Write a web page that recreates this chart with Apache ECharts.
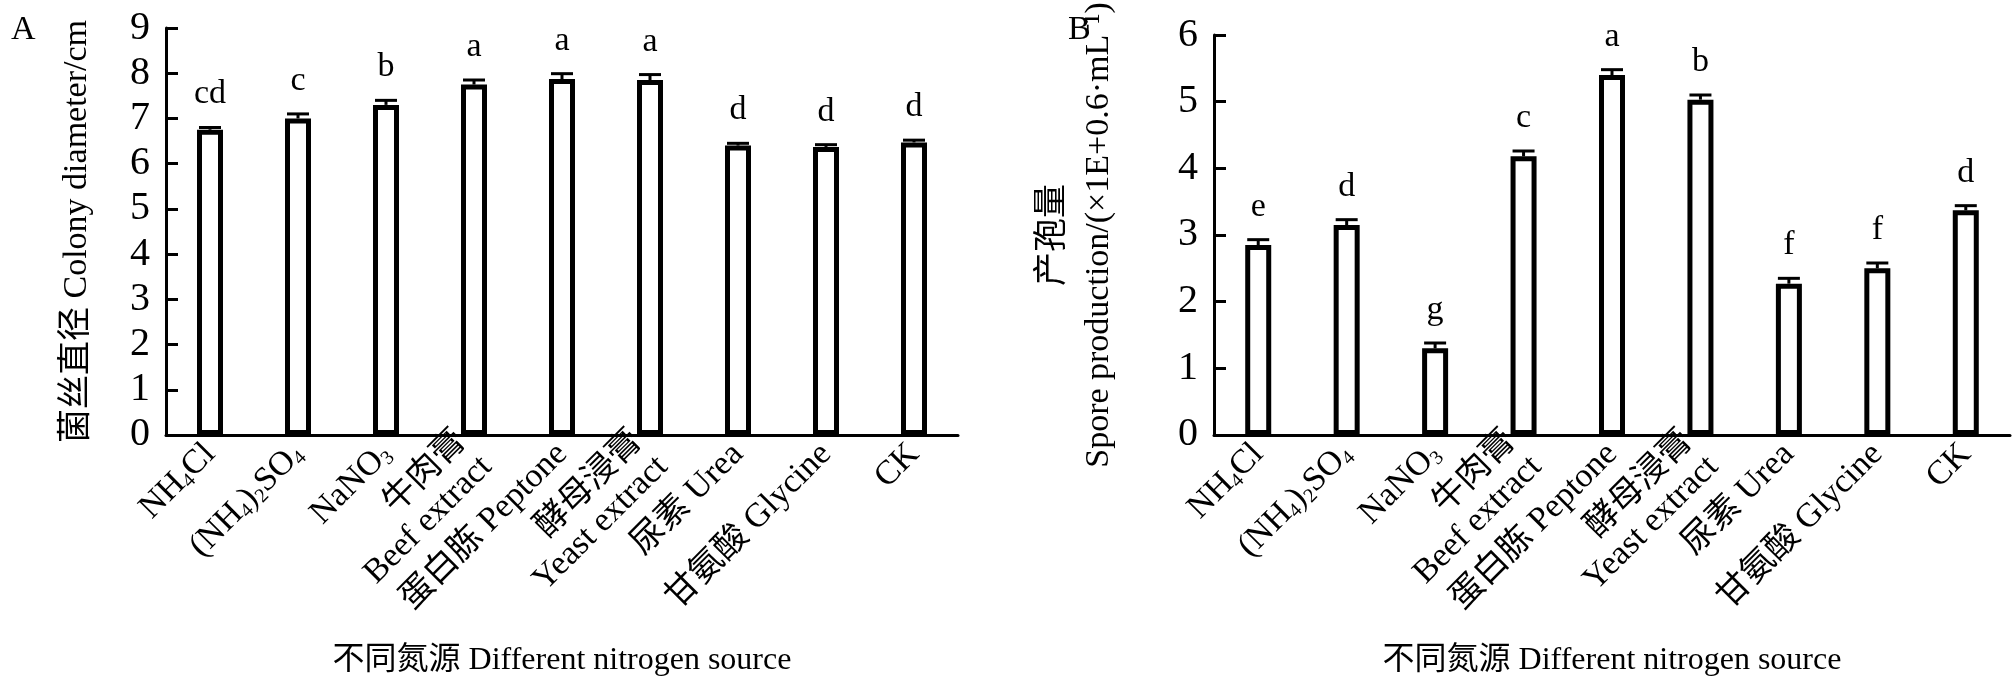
<!DOCTYPE html>
<html lang="en">
<head>
  <meta charset="UTF-8">
  <title>Nitrogen source</title>
  <script src="https://cdn.jsdelivr.net/npm/echarts@6/dist/echarts.min.js"></script>
</head>
<body style="margin:0">
  <div id="main" style="width:2016px;height:682px;background:#fff;"></div>
  <script type="text/javascript">
    var categories = ['NH{s|4}Cl', '(NH{s|4}){s|2}SO{s|4}', 'NaNO{s|3}', '牛肉膏\nBeef extract', '蛋白胨 Peptone',
      '酵母浸膏\nYeast extract', '尿素 Urea', '甘氨酸 Glycine', 'CK'];
    // A: colony diameter
    var diamValues = [6.75, 7.0, 7.3, 7.75, 7.87, 7.85, 6.4, 6.37, 6.47];
    var diamErrors = [0.05, 0.1, 0.1, 0.1, 0.12, 0.12, 0.05, 0.05, 0.05];
    var diamLetters = ['cd', 'c', 'b', 'a', 'a', 'a', 'd', 'd', 'd'];
    // B: spore production
    var sporeValues = [2.85, 3.15, 1.3, 4.18, 5.4, 5.03, 2.27, 2.5, 3.37];
    var sporeErrors = [0.08, 0.08, 0.08, 0.08, 0.08, 0.07, 0.08, 0.08, 0.07];
    var sporeLetters = ['e', 'd', 'g', 'c', 'a', 'b', 'f', 'f', 'd'];

    var FONT = '"Liberation Serif", "Noto Sans CJK SC", serif';

    function errData(vals, errs, letters) {
      return vals.map(function (v, i) { return [i, v, v + errs[i], letters[i]]; });
    }

    function renderErr(params, api) {
      var base = api.coord([api.value(0), api.value(1)]);
      var top = api.coord([api.value(0), api.value(2)]);
      return {
        type: 'group',
        children: [
          { type: 'line', shape: { x1: base[0], y1: base[1], x2: top[0], y2: top[1] }, style: { stroke: '#000', lineWidth: 3 } },
          { type: 'line', shape: { x1: top[0] - 11, y1: top[1], x2: top[0] + 11, y2: top[1] }, style: { stroke: '#000', lineWidth: 3 } },
          { type: 'text', x: top[0], y: top[1] - 16, style: { text: api.value(3), fill: '#000', font: '34px ' + FONT, align: 'center', verticalAlign: 'bottom' } }
        ]
      };
    }

    var axisLine = { lineStyle: { color: '#000', width: 3 } };
    var catAxis = function (idx) {
      return {
        type: 'category', gridIndex: idx, data: categories,
        name: '不同氮源 Different nitrogen source', nameLocation: 'middle', nameGap: 210,
        nameTextStyle: { fontFamily: FONT, fontSize: 32, color: '#000' },
        axisLine: axisLine, axisTick: { inside: true, length: 12, lineStyle: { width: 3, color: '#000' } },
        axisLabel: {
          rotate: 45, interval: 0, margin: 14, color: '#000', fontFamily: FONT, fontSize: 34, lineHeight: 36,
          rich: { s: { fontFamily: FONT, fontSize: 20, verticalAlign: 'bottom', padding: [16, 0, 0, 0] } }
        }
      };
    };
    var valAxis = function (idx, max, name, gap) {
      return {
        type: 'value', gridIndex: idx, min: 0, max: max, interval: 1,
        name: name, nameLocation: 'middle', nameRotate: 90, nameGap: gap,
        nameTextStyle: { fontFamily: FONT, fontSize: 34, color: '#000', lineHeight: 46 },
        axisLine: Object.assign({ show: true }, axisLine),
        axisTick: { show: true, inside: true, length: 12, lineStyle: { width: 3, color: '#000' } },
        splitLine: { show: false },
        axisLabel: { color: '#000', fontFamily: FONT, fontSize: 40, margin: 16 }
      };
    };

    var barStyle = { color: '#fff', borderColor: '#000', borderWidth: 5 };

    var myChart = echarts.init(document.getElementById('main'));
    var option = {
      animation: false,
      title: [
        { text: 'A', left: 6, top: 8, textStyle: { fontFamily: FONT, fontSize: 34, fontWeight: 'normal', color: '#000' } },
        { text: 'B', left: 1063, top: 8, textStyle: { fontFamily: FONT, fontSize: 34, fontWeight: 'normal', color: '#000' } }
      ],
      grid: [
        { left: 166, top: 28, width: 792, bottom: 224 },
        { left: 1214, top: 35, width: 796, bottom: 226 }
      ],
      xAxis: [catAxis(0), catAxis(1)],
      yAxis: [
        valAxis(0, 9, '菌丝直径 Colony diameter/cm', 66),
        valAxis(1, 6, '产孢量\nSpore production/(×1E+0.6·mL⁻¹)', 92)
      ],
      series: [
        { type: 'bar', xAxisIndex: 0, yAxisIndex: 0, data: diamValues, barWidth: 26, itemStyle: barStyle },
        { type: 'custom', xAxisIndex: 0, yAxisIndex: 0, data: errData(diamValues, diamErrors, diamLetters), renderItem: renderErr, z: 5 },
        { type: 'bar', xAxisIndex: 1, yAxisIndex: 1, data: sporeValues, barWidth: 26, itemStyle: barStyle },
        { type: 'custom', xAxisIndex: 1, yAxisIndex: 1, data: errData(sporeValues, sporeErrors, sporeLetters), renderItem: renderErr, z: 5 }
      ]
    };
    myChart.setOption(option);
  </script>
</body>
</html>
